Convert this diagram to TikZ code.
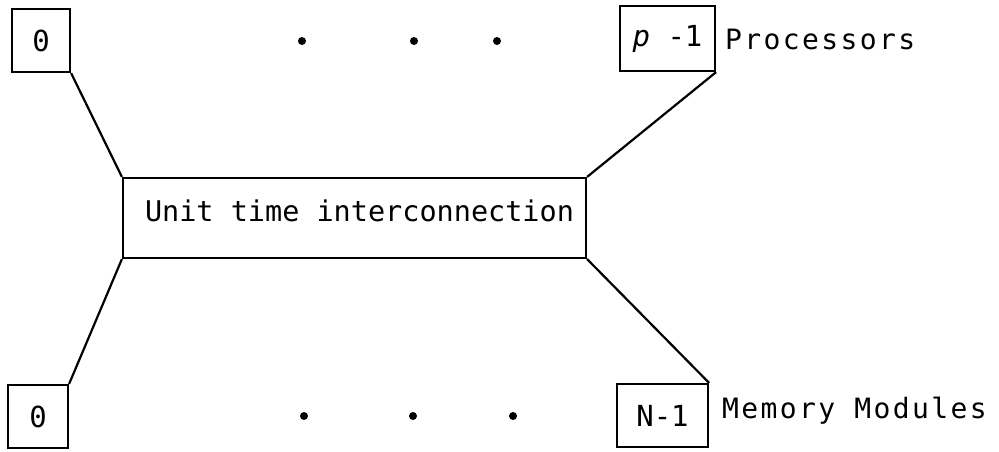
\documentclass[tikz,border=0pt]{standalone}
\usepackage{fontspec}
\setmainfont{DejaVu Sans Mono}
\newfontfamily\labelfont[LetterSpace=8.5]{DejaVu Sans Mono}
\begin{document}
\begin{tikzpicture}[x=1pt,y=-1pt,
  unitbox/.style={draw,line width=2.2pt,inner sep=0pt,font=\fontsize{29}{30}\selectfont},
  link/.style={line width=2.2pt},
  dotmark/.style={fill,circle,inner sep=0pt,minimum size=8pt},
  sidelabel/.style={anchor=base west,inner sep=0pt,font=\labelfont\fontsize{28}{30}\selectfont},
  midlabel/.style={inner sep=0pt,font=\fontsize{28.5}{30}\selectfont}]
\useasboundingbox (0,0) rectangle (999,451);
% processors
\node[unitbox,minimum width=58pt,minimum height=63pt] (p0) at (41,40.5) {0};
\node[unitbox,minimum width=95pt,minimum height=65pt] (plast) at (667.5,38.5) {{\itshape p} -1};
% interconnection network
\node[unitbox,minimum width=463pt,minimum height=80pt] (net) at (354.5,218) {};
\node[midlabel,anchor=base] (netlabel) at (359.5,221) {Unit time interconnection};
% memory modules
\node[unitbox,minimum width=60pt,minimum height=63pt] (m0) at (38,416.5) {0};
\node[unitbox,minimum width=91pt,minimum height=63pt] (mlast) at (662.5,415.5) {N-1};
% row labels
\node[sidelabel] (plabel) at (725,49) {Processors};
\node[sidelabel] (mlabel) at (722,418) {Memory Modules};
% ellipsis dots
\node[dotmark] (pd1) at (302,41) {};
\node[dotmark] (pd2) at (414,41) {};
\node[dotmark] (pd3) at (497,41) {};
\node[dotmark] (md1) at (304,416) {};
\node[dotmark] (md2) at (413,416) {};
\node[dotmark] (md3) at (513,416) {};
% connections
\draw[link] (p0.south east) -- (net.north west);
\draw[link] (plast.south east) -- (net.north east);
\draw[link] (net.south west) -- (m0.north east);
\draw[link] (net.south east) -- (mlast.north east);
\end{tikzpicture}
\end{document}
